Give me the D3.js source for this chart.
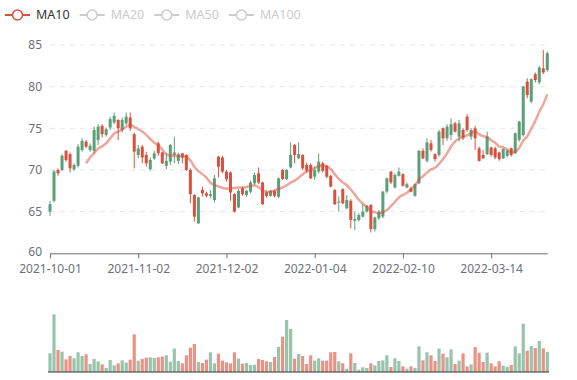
<!DOCTYPE html>
<html>
<head>
<meta charset="utf-8">
<script src="https://cdn.jsdelivr.net/npm/d3@7"></script>
<style>
html,body{margin:0;padding:0;background:#fff;}
svg{display:block;font-family:"Noto Sans","Open Sans",sans-serif;}
</style>
</head>
<body>
<svg id="chart" width="577" height="380"></svg>
<script>
const dates = [
"2021-10-01","2021-10-04","2021-10-05","2021-10-06","2021-10-07","2021-10-08","2021-10-11","2021-10-12","2021-10-13","2021-10-14","2021-10-15","2021-10-18","2021-10-19","2021-10-20","2021-10-21","2021-10-22","2021-10-25","2021-10-26","2021-10-27","2021-10-28","2021-10-29",
"2021-11-01","2021-11-02","2021-11-03","2021-11-04","2021-11-05","2021-11-08","2021-11-09","2021-11-10","2021-11-11","2021-11-12","2021-11-15","2021-11-16","2021-11-17","2021-11-18","2021-11-19","2021-11-22","2021-11-23","2021-11-24","2021-11-25","2021-11-26","2021-11-29","2021-11-30",
"2021-12-01","2021-12-02","2021-12-03","2021-12-06","2021-12-07","2021-12-08","2021-12-09","2021-12-10","2021-12-13","2021-12-14","2021-12-15","2021-12-16","2021-12-17","2021-12-20","2021-12-21","2021-12-22","2021-12-23","2021-12-24","2021-12-27","2021-12-28","2021-12-29","2021-12-30","2021-12-31",
"2022-01-04","2022-01-05","2022-01-06","2022-01-07","2022-01-10","2022-01-11","2022-01-12","2022-01-13","2022-01-14","2022-01-17","2022-01-18","2022-01-19","2022-01-20","2022-01-21","2022-01-24","2022-01-25","2022-01-26","2022-01-27","2022-01-28",
"2022-02-07","2022-02-08","2022-02-09","2022-02-10","2022-02-11","2022-02-14","2022-02-15","2022-02-16","2022-02-17","2022-02-18","2022-02-21","2022-02-22","2022-02-23","2022-02-24","2022-02-25","2022-02-28",
"2022-03-01","2022-03-02","2022-03-03","2022-03-04","2022-03-07","2022-03-08","2022-03-09","2022-03-10","2022-03-11","2022-03-14","2022-03-15","2022-03-16","2022-03-17","2022-03-18","2022-03-21","2022-03-22","2022-03-23","2022-03-24","2022-03-25","2022-03-28","2022-03-29","2022-03-30","2022-03-31",
"2022-04-01"
];
const openVals = [
65.0,66.3,70.0,70.0,72.3,71.9,70.1,70.5,72.4,73.4, 72.4,72.3,73.6,75.3,74.2,75.1,75.7,76.0,74.8,75.6,
76.3,74.3,71.8,72.8,71.8,70.1,71.4,73.2,72.1,70.5, 71.0,71.8,71.1,72.0,71.8,70.0,67.0,63.6,67.6,67.2,
66.9,66.4,71.6,71.5,69.8,69.7,67.1,65.5,67.8,67.0, 67.4,68.4,69.6,68.5,67.3,66.9,67.5,66.8,70.0,68.9,
70.3,73.0,71.4,71.8,70.6,70.6,69.2,69.8,70.8,70.5, 69.3,67.6,66.1,67.7,65.4,66.3,63.9,64.0,64.4,65.0,
65.8,62.9,64.2,64.4,67.4,69.8,67.9,69.3,69.5,67.9, 67.8,66.9,68.4,72.3,71.1,73.2,71.9,71.8,75.0,73.8,
74.2,75.6,74.0,74.8,76.4,74.0,75.0,72.6,71.8,71.9, 72.7,72.6,72.1,71.4,71.7,72.6,72.0,73.6,74.2,80.6,
78.2,81.5,80.5,82.2,82.0
];
const closeVals = [
65.9,69.8,69.6,71.7,71.2,70.2,70.6,72.8,73.5,72.8, 72.9,74.8,75.2,74.3,74.9,76.1,76.5,75.0,76.0,76.4,
75.0,72.2,72.6,71.5,70.8,71.2,72.0,72.0,70.8,71.1, 73.0,72.1,71.9,71.5,70.0,67.1,64.4,66.7,67.2,66.9,
67.1,69.0,70.4,69.8,68.9,67.3,65.0,67.5,67.1,67.5, 68.5,69.4,68.5,65.9,66.9,67.5,66.9,69.0,68.9,70.0,
71.8,71.8,71.9,70.2,69.9,69.0,70.0,71.0,69.9,69.2, 68.0,65.9,66.2,66.0,66.4,64.0,64.1,64.6,65.0,65.7,
62.9,64.3,65.0,67.4,69.0,68.5,69.4,69.8,68.1,68.3, 67.4,68.3,72.3,71.4,73.3,72.4,71.3,74.6,73.8,75.2,
75.5,74.6,75.6,73.8,74.8,74.8,73.8,71.1,71.4,74.0, 71.8,71.5,71.3,72.5,72.3,71.8,74.4,75.8,80.0,79.0,
80.9,80.8,82.3,81.7,84.0
];
const lowVals = [
64.5,66.1,69.3,69.9,71.0,69.7,69.9,70.3,72.2,72.6, 72.2,72.0,73.0,73.9,74.0,74.8,75.5,73.6,74.5,75.4,
74.7,70.2,71.4,70.8,70.4,69.9,71.2,71.7,70.7,70.1, 70.6,70.8,70.7,70.8,69.9,66.0,63.8,63.5,66.8,66.7,
66.6,66.1,69.1,69.6,68.6,66.3,64.9,65.4,66.9,66.8, 67.2,68.2,68.3,65.8,66.7,66.8,66.7,66.6,68.8,68.8,
70.2,70.8,71.3,70.0,69.7,68.9,68.8,69.6,69.7,69.0, 67.9,65.8,65.0,65.9,65.3,63.0,62.8,63.8,64.3,64.9,
62.5,62.6,64.0,64.2,67.2,68.3,67.8,69.2,68.0,67.8, 67.3,66.8,68.3,71.3,70.9,72.2,71.0,71.6,73.0,73.5,
73.6,74.5,73.4,73.6,74.6,73.6,72.4,71.0,71.3,71.8, 71.6,71.3,71.1,71.3,71.5,71.6,71.9,73.4,74.0,78.6,
78.0,80.5,80.3,81.5,81.8
];
const highVals = [
66.3,70.0,70.2,71.9,72.4,72.1,70.8,73.1,73.8,73.6, 73.2,75.2,75.5,75.5,75.1,76.4,76.9,76.1,76.3,76.9,
76.9,74.5,73.0,73.0,72.2,71.5,72.3,73.4,72.2,72.0, 73.1,74.0,72.1,72.0,71.9,70.2,67.1,66.8,68.0,67.4,
67.6,69.4,71.7,71.7,70.0,69.8,67.2,67.7,68.0,67.6, 68.7,69.7,70.3,68.6,67.5,67.6,67.6,69.1,70.1,70.1,
73.3,73.1,73.3,71.9,70.9,70.8,70.4,72.0,71.0,70.6, 69.4,67.7,66.8,67.8,67.0,66.5,65.0,64.8,65.9,65.8,
65.9,64.4,65.2,67.5,69.1,69.9,69.6,70.3,69.6,68.5, 68.0,68.4,72.4,72.6,73.8,73.6,72.0,74.8,75.1,75.5,
76.2,75.8,76.0,75.0,76.7,75.0,75.3,72.8,72.4,74.6, 72.8,72.8,72.2,72.6,72.5,72.7,74.5,75.9,80.1,81.0,
81.0,81.7,82.5,84.4,84.2
];
const volumes = [
56,173,66,61,38,48,41,59,48,53, 24,39,32,23,12,36,20,26,35,28,
37,113,34,39,43,44,42,44,46,50, 31,70,33,26,50,73,84,30,27,37,
59,26,55,34,29,26,59,40,25,27, 21,22,39,36,32,30,45,75,106,156,
129,40,54,48,24,50,34,41,34,34, 59,60,32,26,10,56,27,7,14,12,
26,20,33,35,50,15,41,33,17,10, 17,12,77,35,59,50,33,70,55,44,
68,24,34,56,17,23,75,58,30,58, 26,17,32,19,16,21,77,56,145,64,
78,72,93,71,60
];
const priceTicks = [60, 65, 70, 75, 80, 85];
const legendNames = ["MA10", "MA20", "MA50", "MA100"];
const legendActive = [true, false, false, false];
const maPeriod = 10;

const UP = "#5b9e78", DOWN = "#d9503e";
const AXIS = "#6E7079";

const svg = d3.select("#chart");
const left = 50, right = 547.3;
const x = d3.scalePoint().domain(dates).range([left, right]).padding(0);
const y = d3.scaleLinear().domain([60, 85]).range([253.3, 45]);
const yv = d3.scaleLinear().domain([0, 180]).range([372, 312]);

const data = dates.map((d, i) => ({
  date: d, o: openVals[i], c: closeVals[i], l: lowVals[i], h: highVals[i], v: volumes[i]
}));

// grid lines
svg.append("g").selectAll("line").data(priceTicks.filter(t => t > 60)).join("line")
  .attr("x1", left).attr("x2", right)
  .attr("y1", d => y(d)).attr("y2", d => y(d))
  .attr("stroke", "#E0E6F1").attr("stroke-width", 1).attr("stroke-dasharray", "5,5");

// y labels
svg.append("g").selectAll("text").data(priceTicks).join("text")
  .attr("x", 42).attr("y", d => y(d) - (d === 60 ? 1.5 : 0)).attr("dy", "0.35em")
  .attr("text-anchor", "end").attr("font-size", 12).attr("fill", AXIS)
  .text(d => d);

// x axis
const labelIdx = [0, 22, 44, 66, 88, 110];
const xAxis = d3.axisBottom(x)
  .tickValues(labelIdx.map(i => dates[i]))
  .tickSize(5).tickSizeOuter(0).tickPadding(6);
const gx = svg.append("g").attr("transform", `translate(0,${y(60)})`).call(xAxis);
gx.select(".domain").attr("stroke", AXIS);
gx.selectAll(".tick line").attr("stroke", AXIS);
gx.selectAll(".tick text").attr("fill", AXIS).attr("font-size", 12)
  .attr("font-family", "Noto Sans, Open Sans, sans-serif");

// candles
const cw = 3;
const gc = svg.append("g");
gc.selectAll("line").data(data).join("line")
  .attr("x1", d => x(d.date)).attr("x2", d => x(d.date))
  .attr("y1", d => y(d.h)).attr("y2", d => y(d.l))
  .attr("stroke", d => d.c >= d.o ? UP : DOWN).attr("stroke-width", 1);
gc.selectAll("rect").data(data).join("rect")
  .attr("x", d => x(d.date) - cw / 2).attr("width", cw)
  .attr("y", d => y(Math.max(d.o, d.c)))
  .attr("height", d => Math.max(1, Math.abs(y(d.o) - y(d.c))))
  .attr("fill", d => d.c >= d.o ? UP : DOWN);

// MA10
const ma = data.map((d, i) => {
  if (i < maPeriod - 1) return null;
  const s = d3.sum(closeVals.slice(i - maPeriod + 1, i + 1));
  return { date: d.date, v: s / maPeriod };
}).filter(d => d);
svg.append("path").datum(ma)
  .attr("d", d3.line().x(d => x(d.date)).y(d => y(d.v)).curve(d3.curveMonotoneX))
  .attr("fill", "none").attr("stroke", DOWN).attr("stroke-opacity", 0.5).attr("stroke-width", 2.5);

// volume
svg.append("g").selectAll("rect").data(data).join("rect")
  .attr("x", d => x(d.date) - 1.6).attr("width", 3.2)
  .attr("y", d => yv(d.v)).attr("height", d => yv(0) - yv(d.v))
  .attr("fill", d => d.c >= d.o ? UP : DOWN).attr("fill-opacity", 0.62);
svg.append("line").attr("x1", 48).attr("x2", 549).attr("y1", yv(0)).attr("y2", yv(0))
  .attr("stroke", "#333").attr("stroke-width", 1);

// legend
const lg = svg.append("g");
let lx = 5;
legendNames.forEach((name, i) => {
  const col = legendActive[i] ? DOWN : "#ccc";
  const g = lg.append("g").attr("transform", `translate(${lx},15)`);
  g.append("line").attr("x1", 0).attr("x2", 25).attr("y1", 0).attr("y2", 0)
    .attr("stroke", col).attr("stroke-width", 2);
  g.append("circle").attr("cx", 12.5).attr("cy", 0).attr("r", 5)
    .attr("fill", "#fff").attr("stroke", col).attr("stroke-width", 1.5);
  const t = g.append("text").attr("x", 31).attr("y", 0).attr("dy", "0.35em")
    .attr("font-size", 12.5).attr("fill", legendActive[i] ? "#333" : "#ccc").text(name);
  lx += 31 + t.node().getComputedTextLength() + 10;
});
</script>
</body>
</html>
